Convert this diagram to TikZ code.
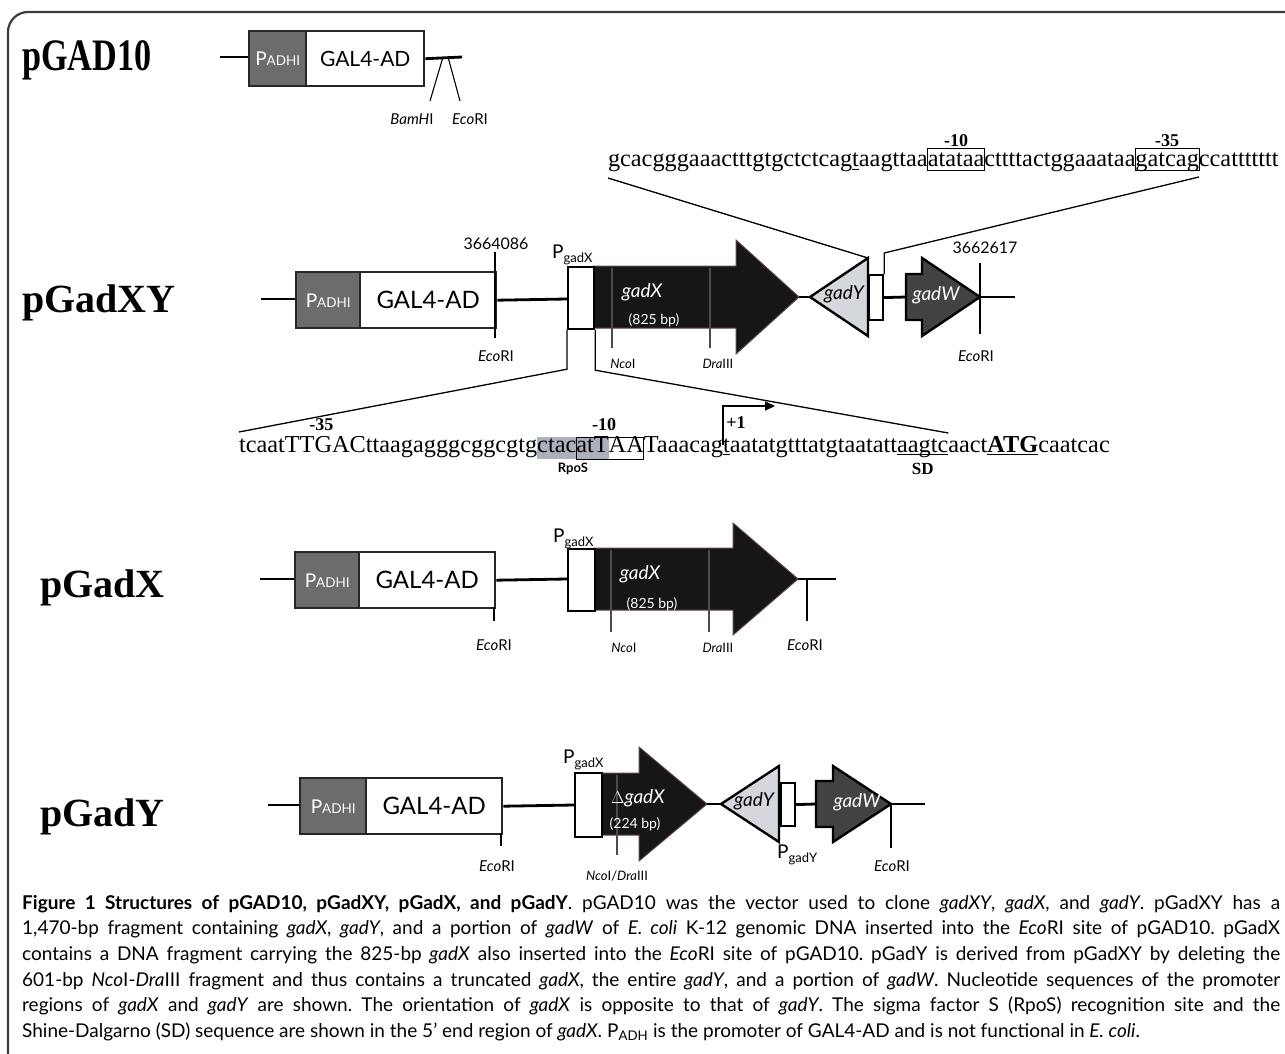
\documentclass[tikz,border=0pt]{standalone}
\usepackage{fontspec}
\setmainfont{Liberation Serif}
\newfontfamily\gillfont{Lato}
\usetikzlibrary{positioning,calc,arrows.meta,backgrounds}
\definecolor{padhgray}{RGB}{108,108,108}
\definecolor{genedark}{RGB}{22,22,22}
\definecolor{gadylight}{RGB}{212,215,219}
\definecolor{gadwdark}{RGB}{66,66,66}
\definecolor{framegray}{RGB}{60,60,60}
\definecolor{rposgray}{RGB}{172,176,188}
\definecolor{glow}{RGB}{95,70,62}

\newcommand{\padhtext}{{\gillfont\fontsize{19}{19}\selectfont P\fontsize{13.5}{13.5}\selectfont ADHI}}
\newcommand{\pgadlab}[1]{{\gillfont\fontsize{19}{19}\selectfont P\raisebox{-4pt}{\fontsize{13}{13}\selectfont #1}}}
\newcommand{\seqsize}{\fontsize{24.3}{24.3}\selectfont}

\begin{document}
\begin{tikzpicture}[x=1pt, y=-1pt,
    rowlabel/.style={anchor=base west, inner sep=0pt, font=\bfseries\fontsize{40}{40}\selectfont},
    dna/.style={line width=2.8pt},
    sitetick/.style={line width=1.1pt},
    innertick/.style={line width=1.1pt, black!70},
    zoomline/.style={line width=1.3pt},
    padhbox/.style={draw=black!85, line width=2.4pt, fill=padhgray, text=white, inner sep=0pt, anchor=north west},
    galbox/.style={draw=black!85, line width=2.4pt, fill=white, inner sep=0pt, anchor=north west, font=\gillfont\fontsize{24}{24}\selectfont},
    probox/.style={draw=black, line width=2.2pt, fill=white},
    genex/.style={fill=genedark, draw=glow, line width=1pt},
    geney/.style={fill=gadylight, draw=black, line width=2.4pt},
    genew/.style={fill=gadwdark, draw=black, line width=2.4pt},
    genelab/.style={inner sep=0pt, font=\gillfont\itshape\fontsize{19}{19}\selectfont},
    bplab/.style={inner sep=0pt, text=white, font=\gillfont\fontsize{14}{14}\selectfont},
    sitelab/.style={inner sep=0pt, font=\gillfont\fontsize{15}{15}\selectfont},
    coordlab/.style={inner sep=0pt, font=\gillfont\fontsize{16}{16}\selectfont},
    seqtop/.style={anchor=base west, inner sep=0pt, outer sep=0pt, font=\seqsize, text height=19pt, text depth=3pt},
    seqmid/.style={anchor=base west, inner sep=0pt, outer sep=0pt, font=\seqsize, text height=15pt, text depth=7pt},
    posnum/.style={inner sep=0pt, font=\bfseries\fontsize{18}{18}\selectfont}
]
\useasboundingbox (0,0) rectangle (1285,1054);
% frame
\draw[framegray, line width=2.2pt, rounded corners=20pt] (8,1070) -- (8,12) -- (1300,12);

% pGAD10
\node[rowlabel, font=\bfseries\fontsize{45}{45}\selectfont] (lab1) at (22,71) {\scalebox{0.76}[1]{pGAD10}};
\draw[dna] (220,57) -- (248,57);
\node[padhbox, minimum width=57pt, minimum height=55pt] (padh1) at (248,30) {\padhtext};
\node[galbox, minimum width=118pt, minimum height=55pt, font=\gillfont\fontsize{21}{21}\selectfont] (gal1) at (305,30) {GAL4-AD};
\draw[dna] (gal1.east) -- (462,57);
\draw[sitetick] (443,57) -- (430,101);
\draw[sitetick] (448,57) -- (460,101);
\node[sitelab] (bam1) at (412,119) {\textit{BamH}I};
\node[sitelab] (eco1) at (470,119) {\textit{Eco}RI};

% gadY promoter sequence
\node[seqtop] (t1) at (608,167) {gcacgggaaactttgtgctctcag};
\node[seqtop] (t2) at (t1.base east) {t};
\node[seqtop] (t3) at (t2.base east) {aagttaa};
\node[seqtop] (t4) at (t3.base east) {atataa};
\node[seqtop] (t5) at (t4.base east) {cttttactggaaataa};
\node[seqtop] (t6) at (t5.base east) {gatcag};
\node[seqtop] (t7) at (t6.base east) {ccattttttt};
\draw[line width=0.8pt] ([yshift=-2pt]t2.base west) -- ([yshift=-2pt]t2.base east);
\draw[line width=0.8pt] (t4.north west) rectangle (t4.south east);
\draw[line width=0.8pt] (t6.north west) rectangle (t6.south east);
\node[posnum, anchor=south] (m10a) at ([yshift=1pt]t4.north) {-10};
\node[posnum, anchor=south] (m35a) at ([yshift=1pt]t6.north) {-35};

% pGadXY
\node[rowlabel] (lab2) at (22,312) {pGadXY};
\draw[dna] (261,299) -- (295,299);
\node[padhbox, minimum width=64pt, minimum height=56pt] (padh2) at (295,271) {\padhtext};
\node[galbox, minimum width=136pt, minimum height=56pt] (gal2) at (359,271) {GAL4-AD};
\draw[dna] (gal2.east) -- (567,299);
\draw[sitetick] (495,252) -- (495,338);
\node[coordlab] (c2a) at (496,244) {3664086};
\node[sitelab] (eco2a) at (496,356) {\textit{Eco}RI};
\filldraw[genex] (593,266) -- (736,266) -- (736,240) -- (799,297) -- (736,354) -- (736,328) -- (593,328) -- cycle;
\node[probox, anchor=north west, minimum width=26pt, minimum height=62pt, inner sep=0pt] (pgx2) at (567,266) {};
\node[anchor=base west, inner sep=0pt] (pgxl2) at (552,258) {\pgadlab{gadX}};
\draw[innertick] (612,268) -- (612,348);
\draw[innertick] (710,268) -- (710,348);
\node[sitelab, font=\gillfont\fontsize{13}{13}\selectfont] (nco2) at (623,364) {\textit{Nco}I};
\node[sitelab, font=\gillfont\fontsize{13}{13}\selectfont] (dra2) at (718,364) {\textit{Dra}III};
\node[genelab, text=white] (gx2) at (642,292) {gadX};
\node[bplab] (bp2) at (654,320) {(825 bp)};
\draw[dna] (799,297) -- (810,297);
\filldraw[geney] (810,297) -- (868,258) -- (868,336) -- cycle;
\node[genelab] (gy2) at (844,294) {gadY};
\node[probox, anchor=north west, minimum width=14pt, minimum height=45pt, inner sep=0pt] (pgy2) at (868,274) {};
\draw[dna] (pgy2.east) -- (906,297);
\filldraw[genew] (906,274) -- (922,274) -- (922,258) -- (980,297) -- (922,336) -- (922,320) -- (906,320) -- cycle;
\node[genelab, text=white] (gw2) at (936,295) {gadW};
\draw[dna] (980,297) -- (1015,297);
\draw[sitetick] (980,263) -- (980,334);
\node[coordlab] (c2b) at (985,248) {3662617};
\node[sitelab] (eco2b) at (976,356) {\textit{Eco}RI};
% zoom lines to gadY promoter
\draw[zoomline] ([yshift=-11pt]t1.base west) -- (868,258);
\draw[zoomline] ([yshift=-10pt]t6.base east) -- (pgy2.north east |- 0,253) -- (pgy2.north east);

% gadX promoter sequence
\node[seqmid] (s1) at (239,452) {tcaat};
\node[seqmid] (s2) at (s1.base east) {TTGAC};
\node[seqmid] (s3) at (s2.base east) {ttaagagggcggcgtg};
\node[seqmid] (s4) at (s3.base east) {ctac};
\node[seqmid] (s5) at (s4.base east) {at};
\node[seqmid] (s6) at (s5.base east) {T};
\node[seqmid] (s7) at (s6.base east) {AA};
\node[seqmid] (s8) at (s7.base east) {Taaacag};
\node[seqmid] (s9) at (s8.base east) {t};
\node[seqmid] (s10) at (s9.base east) {aatatgtttatgtaatatt};
\node[seqmid] (s11) at (s10.base east) {aagtc};
\node[seqmid] (s12) at (s11.base east) {aact};
\node[seqmid, font=\seqsize\bfseries] (s13) at (s12.base east) {ATG};
\node[seqmid] (s14) at (s13.base east) {caatcac};
\begin{scope}[on background layer]
\fill[rposgray] (s4.north west) rectangle (s6.south east);
\end{scope}
\draw[line width=0.8pt] (s5.north west) rectangle (s7.south east);
\draw[line width=0.8pt] ([yshift=-2pt]s9.base west) -- ([yshift=-2pt]s9.base east);
\draw[line width=0.8pt] ([yshift=-2pt]s11.base west) -- ([yshift=-2pt]s11.base east);
\draw[line width=1.4pt] ([yshift=-2.5pt]s13.base west) -- ([yshift=-2.5pt]s13.base east);
\node[posnum, anchor=south] (m35b) at ([xshift=-4pt,yshift=6pt]s2.north) {-35};
\node[posnum, anchor=south] (m10b) at ([xshift=-6pt,yshift=6pt]$(s5.north west)!0.5!(s7.north east)$) {-10};
\node[inner sep=0pt, font=\gillfont\bfseries\fontsize{13}{13}\selectfont] (rpos) at ([yshift=-10pt]$(s4.south west)!0.5!(s6.south east)$) {RpoS};
\node[posnum, font=\bfseries\fontsize{17}{17}\selectfont] (sd) at ([yshift=-10pt]s11.south) {SD};
\draw[line width=1.6pt, -{Triangle[length=10pt,width=9pt]}] ([yshift=7pt]s9.base west) -- ++(0,-39) -- ++(52,0);
\node[posnum, anchor=south west] (plus1) at ([xshift=3pt,yshift=23pt]s9.base west) {+1};

% pGadX
\node[rowlabel] (lab3) at (40,597) {pGadX};
\draw[dna] (260,579) -- (294,579);
\node[padhbox, minimum width=64pt, minimum height=56pt] (padh3) at (294,551) {\padhtext};
\node[galbox, minimum width=136pt, minimum height=56pt] (gal3) at (358,551) {GAL4-AD};
\draw[dna] (gal3.east) -- (567,579);
\draw[sitetick] (494,607) -- (494,621);
\node[sitelab] (eco3a) at (494,645) {\textit{Eco}RI};
\filldraw[genex] (594,548) -- (733,548) -- (733,523) -- (798,579) -- (733,635) -- (733,610) -- (594,610) -- cycle;
\node[probox, anchor=north west, minimum width=27pt, minimum height=62pt, inner sep=0pt] (pgx3) at (567,548) {};
\node[anchor=base west, inner sep=0pt] (pgxl3) at (553,542) {\pgadlab{gadX}};
\draw[innertick] (611,550) -- (611,632);
\draw[innertick] (709,550) -- (709,632);
\node[sitelab, font=\gillfont\fontsize{13}{13}\selectfont] (nco3) at (624,648) {\textit{Nco}I};
\node[sitelab, font=\gillfont\fontsize{13}{13}\selectfont] (dra3) at (718,648) {\textit{Dra}III};
\node[genelab, text=white] (gx3) at (640,574) {gadX};
\node[bplab] (bp3) at (652,604) {(825 bp)};
\draw[dna] (798,579) -- (836,579);
\draw[sitetick] (807,579) -- (807,621);
\node[sitelab] (eco3b) at (805,645) {\textit{Eco}RI};
% zoom lines to gadX promoter
\draw[zoomline] (pgx2.south west) -- ++(0,39) -- ([yshift=20pt]s1.base west);
\draw[zoomline] (pgx2.south east) -- ++(0,40) -- ([yshift=19pt]s11.base east);

% pGadY
\node[rowlabel] (lab4) at (40,826) {pGadY};
\draw[dna] (268,805) -- (299,805);
\node[padhbox, minimum width=66pt, minimum height=56pt] (padh4) at (299,777) {\padhtext};
\node[galbox, minimum width=136pt, minimum height=56pt] (gal4) at (365,777) {GAL4-AD};
\draw[dna] (gal4.east) -- (574,805);
\draw[sitetick] (501,833) -- (501,846);
\node[sitelab] (eco4a) at (497,866) {\textit{Eco}RI};
\filldraw[genex] (601,773) -- (639,773) -- (639,747) -- (707,804) -- (639,861) -- (639,835) -- (601,835) -- cycle;
\node[probox, anchor=north west, minimum width=27pt, minimum height=64pt, inner sep=0pt] (pgx4) at (574,772) {};
\node[anchor=base west, inner sep=0pt] (pgxl4) at (563,763) {\pgadlab{gadX}};
\draw[innertick] (617,775) -- (617,855);
\node[sitelab, font=\gillfont\fontsize{13}{13}\selectfont] (ncodra4) at (617,876) {\textit{Nco}I/\textit{Dra}III};
\node[genelab, text=white] (gx4) at (638,798) {$\Delta$gadX};
\node[bplab] (bp4) at (635,824) {(224 bp)};
\draw[dna] (707,804) -- (721,804);
\filldraw[geney] (721,804) -- (779,766) -- (779,842) -- cycle;
\node[genelab] (gy4) at (754,801) {gadY};
\node[probox, anchor=north west, minimum width=14pt, minimum height=43pt, inner sep=0pt] (pgy4) at (780,782) {};
\draw[dna] (pgy4.east) -- (816,804);
\filldraw[genew] (816,781) -- (833,781) -- (833,766) -- (891,804) -- (833,842) -- (833,827) -- (816,827) -- cycle;
\node[genelab, text=white] (gw4) at (857,802) {gadW};
\draw[dna] (891,804) -- (925,804);
\draw[sitetick] (891,804) -- (891,848);
\node[sitelab] (eco4b) at (892,866) {\textit{Eco}RI};
\node[anchor=base west, inner sep=0pt] (pgyl4) at (777,858) {\pgadlab{gadY}};

% caption
\node[anchor=north west, inner sep=0pt, text width=1258pt, align=justify,
      font=\gillfont\fontsize{19}{25.6}\selectfont\frenchspacing] (caption) at (22,895) {%
\textbf{Figure 1 Structures of pGAD10, pGadXY, pGadX, and pGadY}. pGAD10 was the vector used to clone \textit{gadXY}, \textit{gadX}, and \textit{gadY}. pGadXY has a\linebreak
1,470-bp fragment containing \textit{gadX}, \textit{gadY}, and a portion of \textit{gadW} of \textit{E. coli} K-12 genomic DNA inserted into the \textit{Eco}RI site of pGAD10. pGadX\linebreak
contains a DNA fragment carrying the 825-bp \textit{gadX} also inserted into the \textit{Eco}RI site of pGAD10. pGadY is derived from pGadXY by deleting the\linebreak
601-bp \textit{Nco}I-\textit{Dra}III fragment and thus contains a truncated \textit{gadX}, the entire \textit{gadY}, and a portion of \textit{gadW}. Nucleotide sequences of the promoter\linebreak
regions of \textit{gadX} and \textit{gadY} are shown. The orientation of \textit{gadX} is opposite to that of \textit{gadY}. The sigma factor S (RpoS) recognition site and the\linebreak
Shine-Dalgarno (SD) sequence are shown in the 5’ end region of \textit{gadX}. P\textsubscript{ADH} is the promoter of GAL4-AD and is not functional in \textit{E. coli}.};
\end{tikzpicture}
\end{document}
